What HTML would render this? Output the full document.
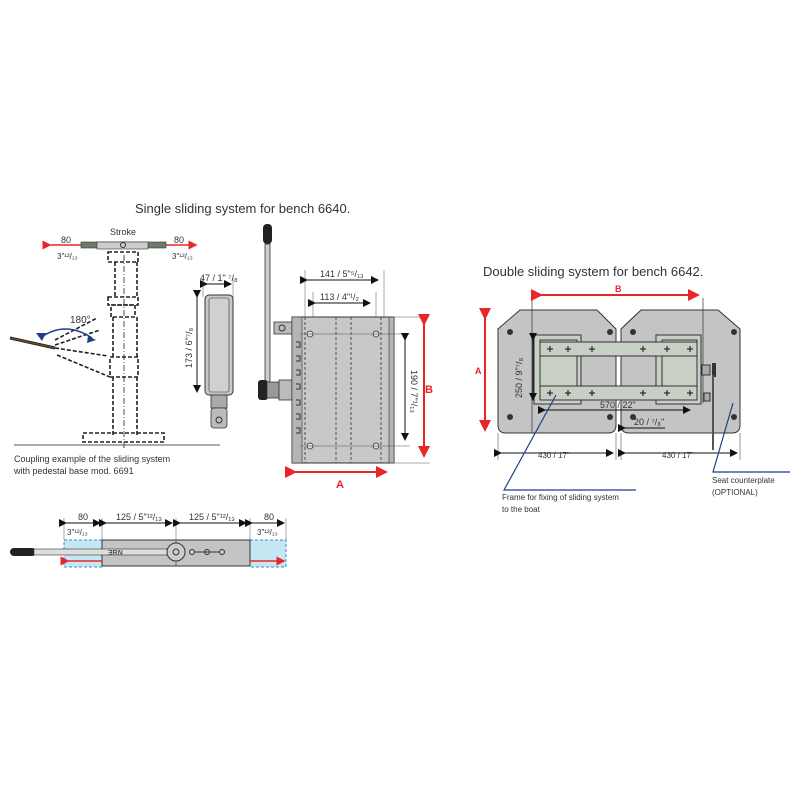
<!DOCTYPE html>
<html><head><meta charset="utf-8"><style>
html,body{margin:0;padding:0;background:#fff;}
svg{display:block;font-family:"Liberation Sans",sans-serif;}
</style></head><body>
<svg width="800" height="800" viewBox="0 0 800 800" xmlns="http://www.w3.org/2000/svg">
<defs>
<marker id="ra" markerWidth="6" markerHeight="6" refX="5" refY="3" orient="auto" markerUnits="strokeWidth"><path d="M0,0 L6,3 L0,6 z" fill="#e8262a"/></marker>
<marker id="ba" markerWidth="8" markerHeight="8" refX="7" refY="4" orient="auto" markerUnits="strokeWidth"><path d="M0,0 L8,4 L0,8 z" fill="#111"/></marker>
</defs>
<rect width="800" height="800" fill="#fff"/>

<!-- Titles -->
<text x="135" y="213" font-size="13" fill="#333">Single sliding system for bench 6640.</text>
<text x="483" y="276" font-size="13" fill="#333">Double sliding system for bench 6642.</text>

<!-- Pedestal -->
<text x="110" y="235" font-size="9" fill="#333">Stroke</text>
<line x1="50" y1="245" x2="196" y2="245" stroke="#e8262a" stroke-width="1.5" marker-start="url(#ra)" marker-end="url(#ra)"/>
<rect x="81" y="242" width="85" height="6" fill="#6b7a6b" stroke="#333" stroke-width=".6"/>
<rect x="97" y="242" width="51" height="7" fill="#ccc" stroke="#333" stroke-width=".6"/>
<circle cx="123" cy="245" r="2.5" fill="none" stroke="#333"/>
<text x="61" y="243" font-size="9" fill="#333">80</text>
<text x="174" y="243" font-size="9" fill="#333">80</text>
<text x="57" y="259" font-size="8" fill="#333">3"¹²/₁₃</text>
<text x="172" y="259" font-size="8" fill="#333">3"¹²/₁₃</text>
<g fill="none" stroke="#222" stroke-width="1.6" stroke-dasharray="4,2">
<rect x="108" y="252" width="30" height="10"/>
<path d="M115 262 V297 M137 262 V297"/>
<rect x="108" y="297" width="30" height="8"/>
<rect x="111" y="305" width="24" height="12"/>
<path d="M113 317 V357 M137 317 V357"/>
<rect x="110" y="357" width="28" height="20"/>
<path d="M113 377 V435 M137 377 V435"/>
<rect x="83" y="433" width="81" height="9"/>
<path d="M55 348 L108 356 M57 355 L110 377 M55 340 L97 318 M55 345 L100 330"/>
</g>
<line x1="124" y1="255" x2="124" y2="450" stroke="#222" stroke-width=".8" stroke-dasharray="6,2,1,2"/>
<line x1="14" y1="445" x2="220" y2="445" stroke="#555" stroke-width="1"/>
<line x1="10" y1="338" x2="55" y2="348" stroke="#222" stroke-width="3"/>
<line x1="10" y1="338" x2="55" y2="348" stroke="#7a4a2a" stroke-width="1.2"/>
<path d="M40 338 Q65 320 92 338" fill="none" stroke="#1f3f8a" stroke-width="1.5"/>
<path d="M36 333 l10 0 l-4 8 z M88 336 l8 4 l-9 3 z" fill="#1f3f8a"/>
<text x="70" y="323" font-size="10" fill="#333">180°</text>
<text x="14" y="462" font-size="9" fill="#333">Coupling example of the sliding system</text>
<text x="14" y="474" font-size="9" fill="#333">with pedestal base mod. 6691</text>

<!-- Side view -->
<line x1="207" y1="284" x2="231" y2="284" stroke="#111" stroke-width="1" marker-start="url(#ba)" marker-end="url(#ba)"/>
<text x="200" y="281" font-size="9" fill="#333">47 / 1" ⁷/₈</text>
<line x1="203" y1="278" x2="203" y2="297" stroke="#555" stroke-width=".5"/>
<line x1="233" y1="278" x2="233" y2="297" stroke="#555" stroke-width=".5"/>
<rect x="205" y="295" width="28" height="100" rx="4" fill="#c8c8c8" stroke="#333" stroke-width="1"/>
<rect x="209" y="298" width="20" height="94" rx="2" fill="#d0d0d0" stroke="#333" stroke-width=".6"/>
<line x1="197" y1="297" x2="197" y2="392" stroke="#111" stroke-width="1" marker-start="url(#ba)" marker-end="url(#ba)"/>
<text transform="translate(192,368) rotate(-90)" font-size="9" fill="#333">173 / 6"⁷/₈</text>
<rect x="211" y="395" width="16" height="13" fill="#aaa" stroke="#333" stroke-width=".8"/>
<rect x="211" y="408" width="16" height="20" rx="3" fill="#bbb" stroke="#333" stroke-width=".8"/>
<circle cx="219" cy="420" r="3" fill="none" stroke="#333"/>

<!-- Lever -->
<rect x="263" y="224" width="9" height="20" rx="4" fill="#222"/>
<rect x="265" y="244" width="5" height="140" fill="#ccc" stroke="#333" stroke-width=".8"/>
<rect x="274" y="322" width="18" height="12" fill="#bbb" stroke="#333" stroke-width=".8"/>
<circle cx="282" cy="328" r="3" fill="none" stroke="#333"/>
<rect x="258" y="380" width="10" height="20" rx="3" fill="#222"/>
<rect x="267" y="382" width="12" height="16" fill="#999" stroke="#333" stroke-width=".8"/>
<rect x="279" y="380" width="13" height="20" fill="#bbb" stroke="#333" stroke-width=".8"/>

<!-- Main plate -->
<rect x="292" y="317" width="102" height="146" fill="#c8c8c8" stroke="#333" stroke-width="1"/>
<rect x="292" y="317" width="10" height="146" fill="#b4b4b4" stroke="#333" stroke-width=".6"/>
<rect x="389" y="317" width="5" height="146" fill="#b4b4b4" stroke="#333" stroke-width=".6"/>
<g stroke="#333" stroke-width=".8" stroke-dasharray="3,2"><line x1="305" y1="317" x2="305" y2="463"/><line x1="336" y1="317" x2="336" y2="463"/><line x1="351" y1="317" x2="351" y2="463"/><line x1="381" y1="317" x2="381" y2="463"/></g>
<g fill="#ddd" stroke="#333" stroke-width=".8"><circle cx="310" cy="334" r="3"/><circle cx="376" cy="334" r="3"/><circle cx="310" cy="446" r="3"/><circle cx="376" cy="446" r="3"/></g>
<g stroke="#555" stroke-width=".5"><line x1="300" y1="334" x2="410" y2="334"/><line x1="300" y1="446" x2="410" y2="446"/><line x1="390" y1="317" x2="428" y2="317"/><line x1="390" y1="463" x2="430" y2="463"/><line x1="305" y1="270" x2="305" y2="317"/><line x1="384" y1="270" x2="384" y2="317"/><line x1="313" y1="292" x2="313" y2="317"/><line x1="376" y1="292" x2="376" y2="317"/></g>
<g fill="none" stroke="#333" stroke-width="1"><path d="M296 342 h4 v5 h-4 M296 356 h4 v5 h-4 M296 370 h4 v5 h-4 M296 384 h4 v5 h-4 M296 400 h4 v5 h-4 M296 414 h4 v5 h-4 M296 428 h4 v5 h-4"/></g>
<line x1="307" y1="280" x2="378" y2="280" stroke="#111" marker-start="url(#ba)" marker-end="url(#ba)"/>
<text x="320" y="277" font-size="9" fill="#333">141 / 5"⁵/₁₃</text>
<line x1="315" y1="303" x2="370" y2="303" stroke="#111" marker-start="url(#ba)" marker-end="url(#ba)"/>
<text x="320" y="300" font-size="9" fill="#333">113 / 4"¹/₂</text>
<line x1="405" y1="340" x2="405" y2="440" stroke="#111" marker-start="url(#ba)" marker-end="url(#ba)"/>
<text transform="translate(411,370) rotate(90)" font-size="9" fill="#333">190 / 7"¹/₁₃</text>
<line x1="424" y1="324" x2="424" y2="456" stroke="#e8262a" stroke-width="2" marker-start="url(#ra)" marker-end="url(#ra)"/>
<text x="425" y="393" font-size="11" font-weight="bold" fill="#e8262a">B</text>
<line x1="295" y1="472" x2="386" y2="472" stroke="#e8262a" stroke-width="2" marker-start="url(#ra)" marker-end="url(#ra)"/>
<text x="336" y="488" font-size="11" font-weight="bold" fill="#e8262a">A</text>

<!-- Bottom slider -->
<rect x="64" y="540" width="38" height="27" fill="#c5e6f3" stroke="#3a8ad0" stroke-width="1" stroke-dasharray="3,2"/>
<rect x="250" y="540" width="36" height="27" fill="#c5e6f3" stroke="#3a8ad0" stroke-width="1" stroke-dasharray="3,2"/>
<rect x="102" y="540" width="148" height="26" fill="#c4c4c4" stroke="#333" stroke-width="1"/>
<line x1="176" y1="540" x2="176" y2="566" stroke="#333" stroke-width=".6"/>
<rect x="10" y="548" width="26" height="8" rx="4" fill="#222"/>
<rect x="34" y="549" width="136" height="6" fill="#ddd" stroke="#333" stroke-width=".6"/>
<circle cx="176" cy="552" r="9" fill="#ccc" stroke="#333"/><circle cx="176" cy="552" r="3" fill="none" stroke="#333"/>
<g fill="none" stroke="#333"><circle cx="192" cy="552" r="2.5"/><circle cx="207" cy="552" r="2.5"/><circle cx="222" cy="552" r="2.5"/><line x1="194" y1="552" x2="220" y2="552"/></g>
<text x="108" y="555" font-size="7" font-weight="bold" fill="#555">ƎRN</text>
<line x1="68" y1="561" x2="102" y2="561" stroke="#e8262a" stroke-width="1.5" marker-start="url(#ra)"/>
<line x1="250" y1="561" x2="284" y2="561" stroke="#e8262a" stroke-width="1.5" marker-end="url(#ra)"/>
<g stroke="#555" stroke-width=".5"><line x1="64" y1="518" x2="64" y2="540"/><line x1="102" y1="518" x2="102" y2="540"/><line x1="176" y1="518" x2="176" y2="540"/><line x1="250" y1="518" x2="250" y2="540"/><line x1="286" y1="518" x2="286" y2="540"/></g>
<g stroke="#111" stroke-width="1"><line x1="66" y1="523" x2="100" y2="523" marker-start="url(#ba)" marker-end="url(#ba)"/><line x1="106" y1="523" x2="172" y2="523" marker-start="url(#ba)" marker-end="url(#ba)"/><line x1="180" y1="523" x2="246" y2="523" marker-start="url(#ba)" marker-end="url(#ba)"/><line x1="252" y1="523" x2="284" y2="523" marker-start="url(#ba)" marker-end="url(#ba)"/></g>
<text x="78" y="520" font-size="9" fill="#333">80</text><text x="264" y="520" font-size="9" fill="#333">80</text>
<text x="116" y="520" font-size="9" fill="#333">125 / 5"¹²/₁₃</text><text x="189" y="520" font-size="9" fill="#333">125 / 5"¹²/₁₃</text>
<text x="67" y="535" font-size="8" fill="#333">3"¹²/₁₃</text><text x="257" y="535" font-size="8" fill="#333">3"¹²/₁₃</text>

<!-- Double -->
<g fill="#c4c4c4" stroke="#333" stroke-width="1">
<path d="M520 310 H597 L616 329 V425 Q616 433 608 433 H506 Q498 433 498 425 V329 Z"/>
<path d="M641 310 H718 L740 329 V425 Q740 433 732 433 H629 Q621 433 621 425 V329 Z"/>
</g>
<g fill="#333"><circle cx="510" cy="332" r="3"/><circle cx="610" cy="332" r="3"/><circle cx="510" cy="417" r="3"/><circle cx="610" cy="417" r="3"/><circle cx="633" cy="332" r="3"/><circle cx="734" cy="332" r="3"/><circle cx="633" cy="417" r="3"/><circle cx="734" cy="417" r="3"/></g>
<g fill="#c8d0c6" stroke="#333" stroke-width="1">
<rect x="534" y="335" width="47" height="69"/><rect x="540" y="340" width="37" height="60"/>
<rect x="656" y="335" width="45" height="69"/><rect x="662" y="340" width="35" height="60"/>
<rect x="540" y="342" width="157" height="14"/><rect x="540" y="386" width="157" height="14"/>
</g>
<g stroke="#111" stroke-width="1"><path d="M547 349 h6 M550 346 v6 M565 349 h6 M568 346 v6 M589 349 h6 M592 346 v6 M640 349 h6 M643 346 v6 M664 349 h6 M667 346 v6 M687 349 h6 M690 346 v6 M547 393 h6 M550 390 v6 M565 393 h6 M568 390 v6 M589 393 h6 M592 390 v6 M640 393 h6 M643 390 v6 M664 393 h6 M667 390 v6 M687 393 h6 M690 390 v6"/></g>
<line x1="532" y1="298" x2="532" y2="433" stroke="#333" stroke-width=".7"/>
<line x1="703" y1="298" x2="703" y2="403" stroke="#333" stroke-width=".7"/>
<line x1="541" y1="295" x2="698" y2="295" stroke="#e8262a" stroke-width="2" marker-start="url(#ra)" marker-end="url(#ra)"/>
<text x="615" y="292" font-size="9" font-weight="bold" fill="#e8262a">B</text>
<line x1="485" y1="318" x2="485" y2="430" stroke="#e8262a" stroke-width="2" marker-start="url(#ra)" marker-end="url(#ra)"/>
<text x="475" y="374" font-size="9" font-weight="bold" fill="#e8262a">A</text>
<line x1="533" y1="340" x2="533" y2="400" stroke="#111" marker-start="url(#ba)" marker-end="url(#ba)"/>
<text transform="translate(522,398) rotate(-90)" font-size="9" fill="#333">250 / 9"⁷/₈</text>
<line x1="545" y1="410" x2="690" y2="410" stroke="#111" marker-start="url(#ba)" marker-end="url(#ba)"/>
<text x="600" y="408" font-size="9" fill="#333">570 / 22"</text>
<line x1="625" y1="428" x2="665" y2="428" stroke="#111" marker-start="url(#ba)"/>
<text x="634" y="425" font-size="9" fill="#333">20 / ⁷/₈"</text>
<rect x="702" y="365" width="8" height="10" fill="#aaa" stroke="#333"/><rect x="712" y="363" width="4" height="14" fill="#333"/>
<rect x="704" y="393" width="6" height="8" fill="#aaa" stroke="#333"/>
<line x1="713" y1="375" x2="713" y2="450" stroke="#555" stroke-width="2"/>
<g stroke="#333" stroke-width=".5"><line x1="498" y1="433" x2="498" y2="460"/><line x1="616" y1="433" x2="616" y2="460"/><line x1="621" y1="433" x2="621" y2="460"/><line x1="740" y1="433" x2="740" y2="460"/></g>
<line x1="501" y1="453" x2="613" y2="453" stroke="#111" marker-start="url(#ba)" marker-end="url(#ba)"/>
<line x1="625" y1="453" x2="737" y2="453" stroke="#111" marker-start="url(#ba)" marker-end="url(#ba)"/>
<text x="538" y="458" font-size="8" fill="#333">430 / 17"</text>
<text x="662" y="458" font-size="8" fill="#333">430 / 17"</text>
<g stroke="#1f3f8a" stroke-width="1.2" fill="none"><path d="M556 395 L504 490 H636"/><path d="M733 403 L713 472 H790"/></g>
<text x="502" y="500" font-size="8" fill="#333">Frame for fixing of sliding system</text>
<text x="502" y="512" font-size="8" fill="#333">to the boat</text>
<text x="712" y="483" font-size="8" fill="#333">Seat counterplate</text>
<text x="712" y="495" font-size="8" fill="#333">(OPTIONAL)</text>
</svg>
</body></html>
